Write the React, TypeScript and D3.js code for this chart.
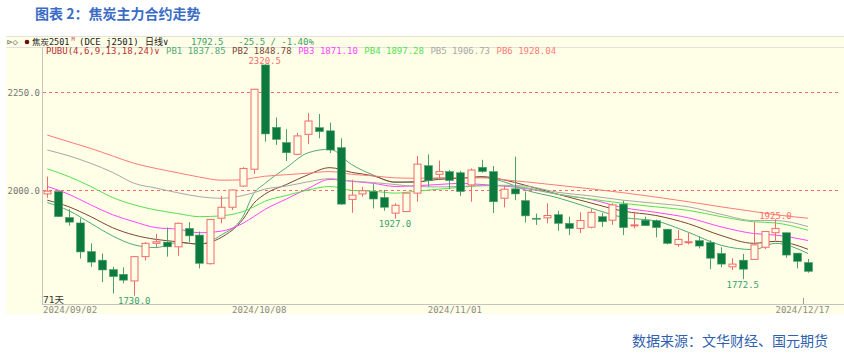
import React from 'react';
import * as d3 from 'd3';

// daily candles, 焦炭2501
const openP = [1990, 1996, 1930, 1916, 1843, 1821, 1797, 1785, 1768, 1830, 1864, 1867, 1855, 1902, 1885, 1812, 1928, 1956, 2010, 2053,
  2319, 2160, 2121, 2091, 2142, 2159, 2151, 2108, 1976, 1990, 1996, 1981, 1941, 1945, 1992, 2062, 2040, 2047, 2044, 2013,
  2058, 2047, 1979, 2003, 1973, 1928, 1929, 1937, 1915, 1902, 1905, 1932, 1923, 1964, 1910, 1923, 1922, 1900, 1861, 1867,
  1871, 1866, 1838, 1804, 1821, 1823, 1854, 1891, 1891, 1839, 1815];
const highP = [2034, 1998, 1951, 1928, 1864, 1838, 1804, 1803, 1831, 1867, 1888, 1904, 1917, 1918, 1894, 1926, 1985, 2001, 2058, 2258,
  2320.5, 2185, 2155, 2146, 2196, 2194, 2172, 2132, 2026, 2008, 2015, 2000, 1966, 1992, 2087, 2091, 2075, 2051, 2049, 2055,
  2077, 2061, 2010, 2085, 1996, 1940, 1966, 1947, 1932, 1943, 1951, 1942, 1966, 1973, 1945, 1932, 1925, 1900, 1898, 1891,
  1881, 1872, 1854, 1826, 1837, 1918, 1894, 1925, 1891, 1839, 1824];
const lowP = [1980, 1931, 1909, 1825, 1804, 1765, 1736, 1762, 1730, 1820, 1854, 1830, 1832, 1867, 1800, 1810, 1915, 1949, 2008, 2041,
  2123, 2115, 2074, 2089, 2117, 2132, 2094, 1962, 1942, 1983, 1953, 1947, 1927, 1944, 1970, 2008, 2030, 2002, 1985, 1970,
  2044, 1941, 1956, 1974, 1917, 1911, 1915, 1896, 1885, 1890, 1902, 1906, 1911, 1885, 1902, 1909, 1879, 1861, 1855, 1861,
  1851, 1798, 1803, 1796, 1772.5, 1823, 1849, 1871, 1827, 1800, 1789];
const closeP = [1997, 1932, 1918, 1842, 1816, 1796, 1779, 1770, 1830, 1864, 1868, 1855, 1915, 1883, 1813, 1925, 1956, 2000, 2055, 2257,
  2143, 2129, 2095, 2138, 2176, 2149, 2102, 1964, 1987, 1998, 1977, 1956, 1961, 1992, 2066, 2024, 2047, 2024, 1996, 2051,
  2047, 1970, 2002, 1990, 1934, 1927, 1935, 1915, 1902, 1922, 1943, 1919, 1962, 1904, 1911, 1909, 1904, 1864, 1874, 1868,
  1857, 1826, 1811, 1811, 1798, 1860, 1894, 1902, 1834, 1818, 1792.5];

// PUBU lines, read at these candle positions
const pbIndex = [0, 2, 4, 6, 8, 10, 12, 14, 16, 18, 19, 20, 22, 24, 26, 28, 30, 32, 34, 36, 38, 40, 42, 44, 47, 50, 53, 56, 59, 62, 65, 67, 70];
const pb1 = [1968, 1947, 1915, 1883, 1860, 1853, 1866, 1862, 1885, 1932, 1991, 2016, 2057, 2095, 2104, 2065, 2038, 2020, 2020, 2030, 2030, 2033, 2021, 2000, 1980, 1954, 1930, 1921, 1892, 1859, 1848, 1864, 1837.85];
const pb2 = [1974, 1957, 1932, 1904, 1885, 1874, 1868, 1862, 1879, 1925, 1966, 1989, 2014, 2039, 2057, 2045, 2036, 2020, 2021, 2027, 2030, 2034, 2026, 2012, 1989, 1967, 1946, 1935, 1914, 1884, 1864, 1869, 1848.78];
const pb3 = [2009, 1989, 1962, 1937, 1919, 1904, 1900, 1891, 1895, 1915, 1932, 1950, 1977, 2004, 2027, 2022, 2017, 2009, 2011, 2014, 2017, 2014, 2010, 2004, 1989, 1976, 1955, 1943, 1929, 1906, 1889, 1885, 1871.10];
const pb4 = [2054, 2034, 2009, 1981, 1962, 1949, 1940, 1932, 1934, 1945, 1957, 1971, 1986, 2000, 2009, 1999, 1997, 1992, 1997, 2002, 2007, 2011, 2011, 2006, 1989, 1977, 1966, 1957, 1948, 1932, 1919, 1916, 1897.28];
const pb5 = [2102, 2087, 2068, 2045, 2017, 2005, 1993, 1983, 1979, 1986, 1993, 2002, 2010, 2021, 2029, 2023, 2019, 2014, 2009, 2008, 2009, 2011, 2012, 2010, 1994, 1985, 1974, 1966, 1957, 1938, 1922, 1922, 1906.73];
const pb6 = [2140, 2123, 2106, 2087, 2068, 2055, 2044, 2033, 2025, 2026, 2031, 2035, 2039, 2043, 2047, 2040, 2036, 2031, 2030, 2031, 2031, 2031, 2026, 2021, 2012, 2003, 1993, 1982, 1970, 1957, 1945, 1937, 1928.04];
const pbNames = ['PB1', 'PB2', 'PB3', 'PB4', 'PB5', 'PB6'];
const pbColors = ['#4fa97a', '#7a4636', '#ff44ff', '#55e055', '#a8a8a8', '#ff7a7a'];

const yTicks = [2000, 2250];
const dateIdx = [0, 19, 37, 69];
const dateText = ['2024/09/02', '2024/10/08', '2024/11/01', '2024/12/17'];

// marked extremes
const markIdx = [20, 8, 32, 67, 64];
const markVal = [2320.5, 1730.0, 1927.0, 1925.0, 1772.5];
const markSide = ['high', 'low', 'low', 'high', 'low'];

const UP = '#f26b6b';
const DOWN = '#0b7a3c';
const DOWN_WICK = '#4e9f70';
const BG = '#fffee6';
const MONO = "'DejaVu Sans Mono', 'Noto Sans CJK SC', monospace";
const CJK = "'Noto Sans CJK SC', sans-serif";

export default function App() {
  const x = d3.scaleLinear().domain([0, 70]).range([47.3, 808]);
  const y = d3.scaleLinear().domain([2000, 2250]).range([190, 92]);
  const pbSeries = [pb1, pb2, pb3, pb4, pb5, pb6];

  const line = d3.line<number>()
    .x((_, i) => x(pbIndex[i]))
    .y(d => y(d))
    .curve(d3.curveMonotoneX);

  const legendVals = pbSeries.map(s => s[s.length - 1].toFixed(2));
  const bandHalf = (x(1) - x(0)) / 2;

  return (
    <svg width={844} height={354} style={{ position: 'absolute', left: 0, top: 0, background: '#fff' }}>
      <text x={35} y={19} fontFamily={CJK} fontSize={14} fontWeight="bold" fill="#3a6cc6">图表 2：焦炭主力合约走势</text>

      <rect x={6} y={36} width={838} height={278} fill={BG} />
      <line x1={6} x2={844} y1={36.5} y2={36.5} stroke="#e2e2da" />
      <line x1={6} x2={844} y1={47.5} y2={47.5} stroke="#e2e2da" />
      <line x1={42.5} x2={42.5} y1={47.5} y2={304} stroke="#c4c4bc" />
      <line x1={42} x2={844} y1={304.5} y2={304.5} stroke="#c4c4bc" />

      {/* header row */}
      <g fontFamily={MONO} fontSize={9}>
        <text x={7} y={45} fill="#777">⊳◇</text>
        <circle cx={27} cy={42} r={2.3} fill="#6b1010" />
        <text x={32} y={45} fill="#222" fontSize={8.5}>焦炭2501</text>
        <text x={71.5} y={40.5} fill="#e04040" fontSize={5.5}>M</text>
        <text x={79} y={45} fill="#222">(DCE j2501)</text>
        <text x={145} y={45} fill="#222">日线∨</text>
        <text x={191} y={45} fill="#3a9f6c">1792.5</text>
        <text x={238} y={45} fill="#3a9f6c">-25.5 / -1.40%</text>
      </g>
      <g fontFamily={MONO} fontSize={9}>
        <text x={46} y={54} fill="#b83030">PUBU(4,6,9,13,18,24)∨</text>
        {pbNames.map((n, i) => (
          <text key={n} x={166 + i * 66.1} y={54} fill={pbColors[i]}>{n} {legendVals[i]}</text>
        ))}
      </g>

      {/* grid + y labels */}
      {yTicks.map(t => (
        <g key={t}>
          <line x1={43} x2={840} y1={Math.round(y(t)) + 0.5} y2={Math.round(y(t)) + 0.5}
            stroke="#ff6b6b" strokeDasharray="3,3" />
          <text x={40} y={y(t) + 3.5} textAnchor="end" fontFamily={MONO} fontSize={9} fill="#777">{t.toFixed(1)}</text>
        </g>
      ))}

      {/* waterfall lines */}
      {pbSeries.map((s, i) => (
        <path key={i} d={line(s) || ''} fill="none" stroke={pbColors[i]} strokeWidth={1} />
      ))}

      {/* candles */}
      {openP.map((o, i) => {
        const c = closeP[i];
        const cx = Math.round(x(i)) + 0.5;
        const up = c > o;
        const top = y(Math.max(o, c));
        const bot = y(Math.min(o, c));
        const h = Math.max(1, bot - top);
        if (up) {
          return (
            <g key={i}>
              <line x1={cx} x2={cx} y1={y(highP[i])} y2={top} stroke={UP} />
              <line x1={cx} x2={cx} y1={top + h} y2={y(lowP[i])} stroke={UP} />
              <rect x={cx - 3.5} y={top} width={7} height={h} fill={BG} stroke={UP} />
            </g>
          );
        }
        return (
          <g key={i}>
            <line x1={cx} x2={cx} y1={y(highP[i])} y2={y(lowP[i])} stroke={DOWN_WICK} />
            <rect x={cx - 4} y={top} width={8} height={h} fill={DOWN} stroke={DOWN_WICK} strokeWidth={0.6} />
          </g>
        );
      })}

      {/* extreme marks */}
      {markIdx.map((ci, k) => (
        <text key={k} x={x(ci)} y={markSide[k] === 'high' ? y(markVal[k]) : y(markVal[k]) + 8.5}
          textAnchor="middle" fontFamily={MONO} fontSize={9}
          fill={markSide[k] === 'high' ? '#ff6a6a' : '#3a9f6c'}>{markVal[k].toFixed(1)}</text>
      ))}

      <text x={43} y={303} fontFamily={MONO} fontSize={9.5} fill="#333">71天</text>

      {/* date axis */}
      {dateIdx.map((di, k) => {
        const px = x(di) + bandHalf;
        const first = k === 0;
        return (
          <g key={di}>
            {k === dateIdx.length - 1 && (
              <line x1={Math.round(px) + 0.5} x2={Math.round(px) + 0.5} y1={298} y2={304} stroke="#999" />
            )}
            <text x={first ? 43 : px} y={313} textAnchor={first ? 'start' : 'middle'}
              fontFamily={MONO} fontSize={9} fill="#8a8a8a">{dateText[k]}</text>
          </g>
        );
      })}

      <text x={828} y={346} textAnchor="end" fontFamily={CJK} fontSize={14} fill="#2f5fae">数据来源：文华财经、国元期货</text>
    </svg>
  );
}
